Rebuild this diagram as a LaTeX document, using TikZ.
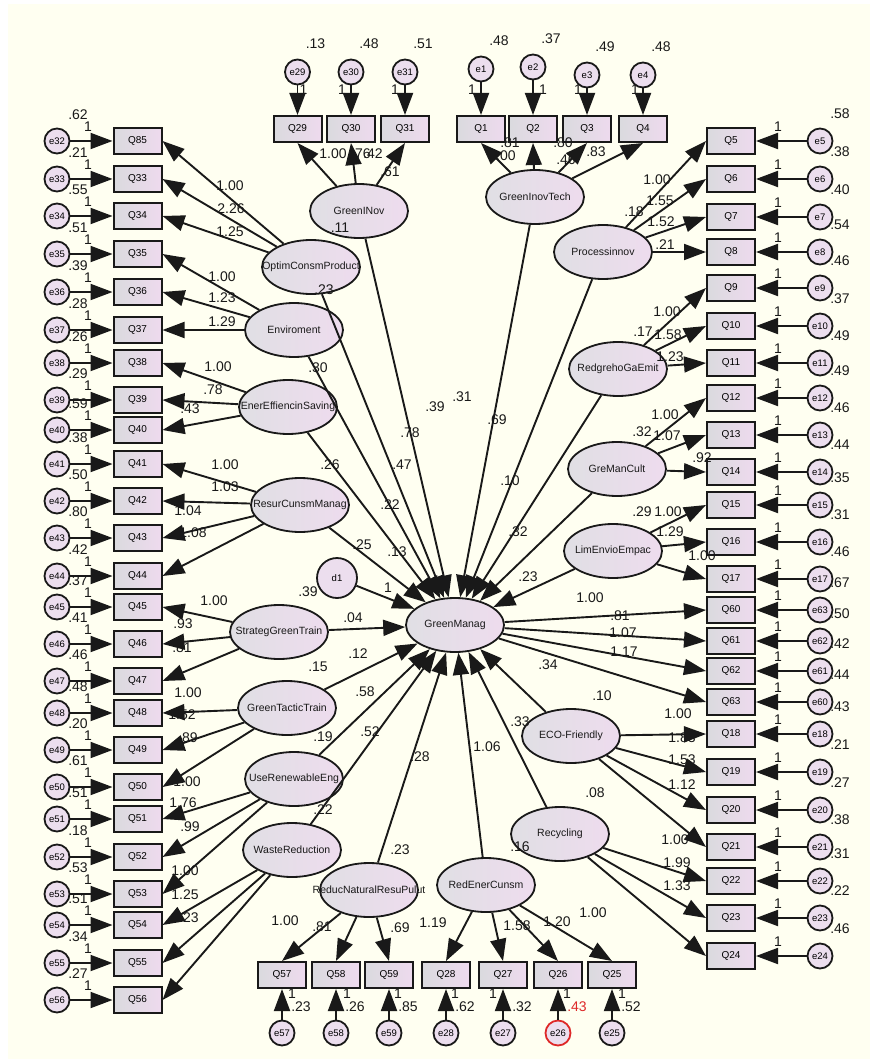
\documentclass[tikz,border=0pt]{standalone}
\usepackage{fontspec}
\setmainfont{Liberation Sans}
\usetikzlibrary{arrows.meta,shapes.geometric}
\definecolor{Cream}{RGB}{255,255,241}
\definecolor{BoxGray}{RGB}{218,218,222}
\definecolor{BoxPink}{RGB}{238,218,238}
\definecolor{LatGray}{RGB}{224,223,228}
\definecolor{LatPink}{RGB}{238,220,238}
\definecolor{ErrPink}{RGB}{236,222,238}
\definecolor{ErrRed}{RGB}{222,40,40}
\definecolor{Ink}{RGB}{25,25,25}

\begin{document}
\begin{tikzpicture}[x=1pt,y=-1pt,
  ind/.style={rectangle,draw=Ink,line width=2pt,minimum width=48pt,minimum height=26pt,inner sep=0pt,left color=BoxGray,right color=BoxPink,font=\fontsize{10}{10}\selectfont},
  err/.style={circle,draw=Ink,line width=1.8pt,minimum size=25pt,inner sep=0pt,fill=ErrPink,font=\fontsize{9.5}{10}\selectfont},
  lat/.style={ellipse,draw=Ink,line width=1.8pt,minimum width=98pt,minimum height=54pt,inner sep=0pt,left color=LatGray,right color=LatPink},
  ltxt/.style={font=\fontsize{10.5}{10.5}\selectfont,text=Ink},
  num/.style={font=\fontsize{14}{14}\selectfont,text=Ink,inner sep=0pt},
  ar/.style={-{Triangle[length=22pt,width=16pt]},line width=1.9pt,draw=Ink}
]
  \useasboundingbox (0,0) rectangle (870,1059);
  \fill[white] (0,0) rectangle (870,1059);
  \fill[Cream] (8,4) rectangle (870,1059);

  % latent variables
  \foreach \n/\x/\y/\t in {gin/359/211/GreenINov, git/535/197/GreenInovTech, pin/603/252/Processinnov,
      opt/311/267/OptimConsmProduct, env/294/330/Enviroment, ene/288/407/EnerEffiencinSaving,
      res/300/505/ResurCunsmManag, rge/618/369/RedgrehoGaEmit, gmc/617/469/GreManCult,
      lim/613/551/LimEnvioEmpac, gm/455/625/GreenManag, stg/279/632/StrategGreenTrain,
      gtt/287/708/GreenTacticTrain, ure/294/779/UseRenewableEng, wst/292/850/WasteReduction,
      rnr/369/890/ReducNaturalResuPulut, ren/486/885/RedEnerCunsm, cyc/560/834/Recycling,
      eco/571/736/ECO-Friendly}{
    \node[lat] (\n) at (\x,\y) {};
    \node[ltxt] at (\n) {\t};
  }
  \node[err,minimum size=40pt] (d1) at (337,578) {d1};

  % left column
  \foreach \q/\y/\ev/\vr in {85/141/32/.62, 33/179/33/.21, 34/216/34/.55, 35/254/35/.51,
      36/292/36/.39, 37/330/37/.28, 38/363/38/.26, 39/400/39/.29, 40/430/40/.59,
      41/464/41/.38, 42/501/42/.50, 43/538/43/.80, 44/576/44/.42, 45/607/45/.37,
      46/644/46/.41, 47/681/47/.46, 48/713/48/.48, 49/750/49/.20, 50/787/50/.61,
      51/819/51/.51, 52/857/52/.18, 53/894/53/.53, 54/925/54/.51, 55/963/55/.34, 56/1000/56/.27}{
    \node[ind] (Q\q) at (137.5,\y) {Q\q};
    \node[err] (e\ev) at (57,\y) {e\ev};
    \draw[ar] (e\ev) -- (Q\q);
    \node[num] at (78,\y-26) {\vr};
    \node[num] at (88,\y-14) {1};
  }

  % right column
  \foreach \q/\y/\ev/\vr in {5/141/5/.58, 6/179/6/.38, 7/217/7/.40, 8/252/8/.54, 9/288/9/.46,
      10/326/10/.37, 11/363/11/.49, 12/398/12/.49, 13/435/13/.46, 14/472/14/.44,
      15/505/15/.35, 16/542/16/.31, 17/579/17/.46, 60/610/63/.67, 61/641/62/.50,
      62/671/61/.42, 63/702/60/.44, 18/734/18/.43, 19/772/19/.21, 20/810/20/.27,
      21/847/21/.38, 22/881/22/.31, 23/918/23/.22, 24/956/24/.46}{
    \node[ind] (Q\q) at (731,\y) {Q\q};
    \node[err] (e\ev) at (820,\y) {e\ev};
    \draw[ar] (e\ev) -- (Q\q);
    \node[num] at (840,\y-27) {\vr};
    \node[num] at (778,\y-14) {1};
  }

  % top row
  \foreach \q/\x/\cy/\vr/\ox in {29/297.5/72/.13/6, 30/351/72/.48/-9, 31/405/72/.51/-10,
      1/481/69/.48/-9, 2/533/67/.37/10, 3/587/75/.49/-9, 4/643/75/.48/-8}{
    \node[ind] (Q\q) at (\x,129) {Q\q};
    \node[err] (e\q) at (\x,\cy) {e\q};
    \draw[ar] (e\q) -- (Q\q);
    \node[num] at (\x+18,\cy-28) {\vr};
    \node[num] at (\x+\ox,90) {1};
  }

  % bottom row
  \foreach \q/\x/\vr/\ox/\cl in {57/282/.23/10/Ink, 58/336/.26/11/Ink, 59/389/.85/9/Ink,
      28/446/.62/9/Ink, 27/503/.32/-10/Ink, 26/558/.43/9/ErrRed, 25/612/.52/10/Ink}{
    \node[ind] (Q\q) at (\x,975) {Q\q};
    \node[err,draw=\cl] (e\q) at (\x,1033) {e\q};
    \draw[ar] (e\q) -- (Q\q);
    \node[num,text=\cl] at (\x+19,1007) {\vr};
    \node[num] at (\x+\ox,994) {1};
  }

  % loadings
  \foreach \l/\q in {opt/85, opt/33, opt/34, env/35, env/36, env/37, ene/38, ene/39, ene/40,
      res/41, res/42, res/43, res/44, stg/45, stg/46, stg/47, gtt/48, gtt/49, gtt/50,
      ure/51, ure/52, ure/53, wst/54, wst/55, wst/56}
    \draw[ar] (\l) -- (Q\q.east);
  \foreach \l/\q in {pin/5, pin/6, pin/7, pin/8, rge/9, rge/10, rge/11, gmc/12, gmc/13, gmc/14,
      lim/15, lim/16, lim/17, gm/60, gm/61, gm/62, gm/63, eco/18, eco/19, eco/20, eco/21,
      cyc/22, cyc/23, cyc/24}
    \draw[ar] (\l) -- (Q\q.west);
  \foreach \l/\q in {gin/29, gin/30, gin/31, git/1, git/2, git/3, git/4}
    \draw[ar] (\l) -- (Q\q.south);
  \foreach \l/\q in {rnr/57, rnr/58, rnr/59, ren/28, ren/27, ren/26, ren/25}
    \draw[ar] (\l) -- (Q\q.north);

  % paths into GreenManag
  \foreach \l in {gin, git, pin, opt, env, ene, res, rge, gmc, lim, d1, stg, gtt, ure, wst, rnr, ren, cyc, eco}
    \draw[ar] (\l) -- (gm);

  % estimates
  \foreach \x/\y/\t in {333/154/1.00, 361/154/.76, 373/154/.42, 390/172/.61, 340/228/.11,
      502/156/1.00, 510/143/.81, 563/143/.80, 566/160/.46, 596/152/.83,
      657/180/1.00, 660/201/1.55, 634/212/.18, 661/222/1.52, 665/245/.21,
      667/312/1.00, 643/332/.17, 668/335/1.58, 670/357/1.23,
      665/415/1.00, 642/432/.32, 667/436/1.07, 702/458/.92,
      642/512/.29, 668/512/1.00, 670/532/1.29, 702/556/1.00,
      590/598/1.00, 620/616/.81, 623/633/1.07, 624/652/1.17,
      602/696/.10, 678/714/1.00, 682/738/1.83, 682/760/1.53, 682/785/1.12, 548/665/.34, 520/722/.33,
      595/793/.08, 675/840/1.00, 677/863/1.99, 677/886/1.33, 520/847/.16,
      285/921/1.00, 322/927/.81, 400/928/.69, 400/850/.23,
      433/923/1.19, 517/926/1.58, 557/922/1.20, 593/913/1.00,
      420/757/.28, 487/747/1.06, 323/810/.22,
      230/186/1.00, 231/209/2.26, 230/232/1.25, 324/290/.23,
      222/277/1.00, 222/298/1.23, 222/322/1.29, 318/368/.30,
      218/367/1.00, 213/390/.78, 190/409/.43, 330/465/.26,
      225/465/1.00, 225/487/1.03, 188/511/1.04, 193/533/1.08, 362/545/.25, 397/552/.13,
      214/601/1.00, 183/624/.93, 182/648/.81, 353/618/.04, 318/667/.15, 358/654/.12,
      188/693/1.00, 182/715/1.52, 188/738/.89, 365/692/.58, 323/737/.19,
      187/782/1.00, 183/803/1.76, 190/827/.99, 370/732/.52,
      185/871/1.00, 185/895/1.25, 185/918/1.23,
      435/407/.39, 462/397/.31, 497/420/.69, 410/433/.78, 402/465/.47,
      510/481/.10, 390/505/.22, 518/532/.32, 528/577/.23, 388/588/1, 308/592/.39}
    \node[num] at (\x,\y) {\t};
\end{tikzpicture}
\end{document}
